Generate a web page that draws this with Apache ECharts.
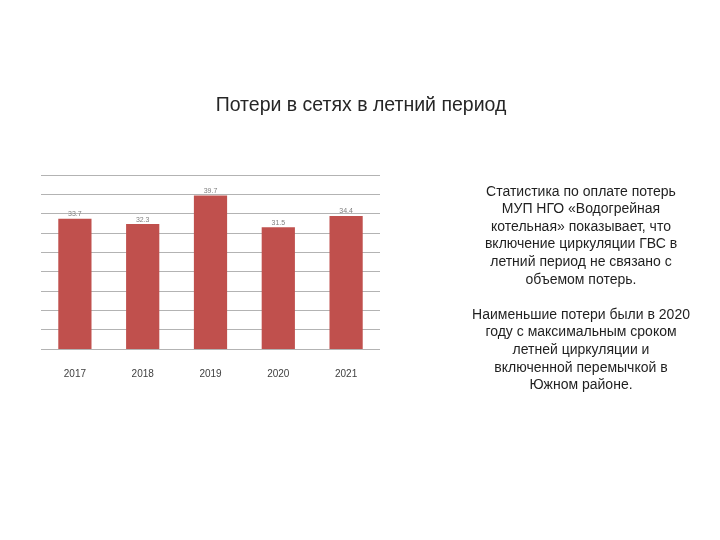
<!DOCTYPE html>
<html><head><meta charset="utf-8">
<script src="https://cdn.jsdelivr.net/npm/echarts@6/dist/echarts.min.js"></script>
<style>html,body{margin:0;padding:0;background:#fff}#c{width:720px;height:540px}</style>
</head><body><div id="c"></div>
<script>
var categories = ['2017', '2018', '2019', '2020', '2021'];
var losses = [33.7, 32.3, 39.7, 31.5, 34.4];
var chartTitle = 'Потери в сетях в летний период';
var noteLines = [
  'Статистика по оплате потерь',
  'МУП НГО «Водогрейная',
  'котельная» показывает, что',
  'включение циркуляции ГВС в',
  'летний период не связано с',
  'объемом потерь.',
  '',
  'Наименьшие потери были в 2020',
  'году с максимальным сроком',
  'летней циркуляции и',
  'включенной перемычкой в',
  'Южном районе.'
];
var chart = echarts.init(document.getElementById('c'));
chart.setOption({
  animation: false,
  backgroundColor: '#ffffff',
  title: {
    text: chartTitle, left: 356, top: 91, textAlign: 'center',
    textStyle: {fontFamily: 'Liberation Sans', fontSize: 19.5, fontWeight: 'normal', color: '#262626'}
  },
  grid: {left: 41, right: 340, top: 175, bottom: 191},
  xAxis: {
    type: 'category', data: categories,
    axisLine: {show: false}, axisTick: {show: false},
    axisLabel: {margin: 20, fontFamily: 'Liberation Sans', fontSize: 10, color: '#404040'}
  },
  yAxis: {
    type: 'value', min: 0, max: 45, interval: 5,
    axisLabel: {show: false}, axisLine: {show: false}, axisTick: {show: false},
    splitLine: {lineStyle: {color: '#b3b3b3', width: 1}}
  },
  series: [{
    type: 'bar', data: losses, barWidth: '49%',
    itemStyle: {color: '#c0504d'},
    label: {show: true, position: 'top', distance: 1, fontFamily: 'Liberation Sans', fontSize: 7, color: '#7f7f7f'}
  }],
  graphic: [{
    type: 'text', x: 581, y: 183,
    style: {
      text: noteLines.join('\n'), align: 'center', verticalAlign: 'top',
      font: '14px "Liberation Sans"', lineHeight: 17.6, fill: '#1f1f1f'
    }
  }]
});
</script></body></html>
